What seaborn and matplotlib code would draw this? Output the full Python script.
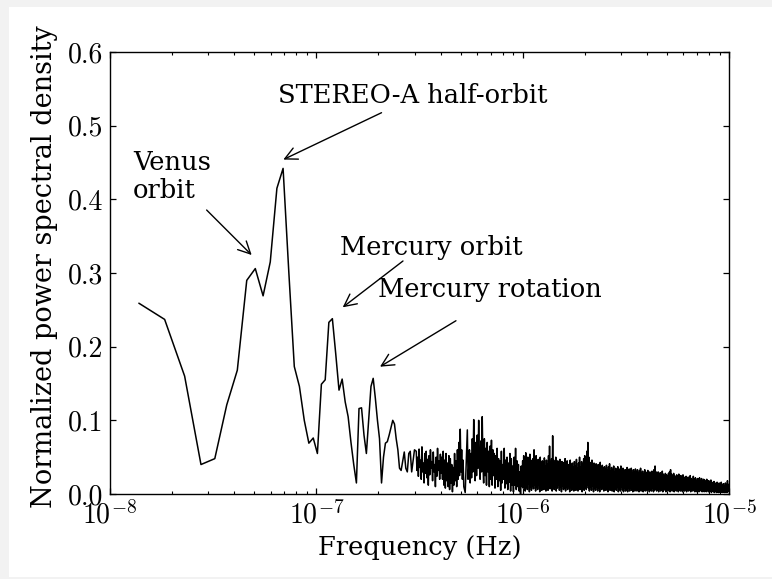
import numpy as np
import pandas as pd
import matplotlib
matplotlib.use("Agg")
import matplotlib.pyplot as plt
import seaborn as sns
from matplotlib.patches import Rectangle
from matplotlib.ticker import FormatStrFormatter, LogLocator

# Periodogram of the in-situ time series
DF = 4.6e-9  # frequency resolution (Hz)

# individually resolved bins (k * DF), k = 3 .. 65
bins_low = np.arange(3, 66)
psd_low = [0.259, 0.237, 0.160, 0.040, 0.048, 0.121, 0.168, 0.290, 0.306, 0.269,
           0.315, 0.415, 0.442, 0.300, 0.173, 0.146, 0.100, 0.069, 0.076, 0.055,
           0.149, 0.155, 0.233, 0.238, 0.190, 0.141, 0.156, 0.125, 0.105, 0.070,
           0.040, 0.015, 0.116, 0.117, 0.080, 0.055, 0.100, 0.146, 0.157, 0.130,
           0.100, 0.075, 0.015, 0.050, 0.069, 0.071, 0.080, 0.090, 0.100, 0.095,
           0.075, 0.060, 0.035, 0.032, 0.045, 0.057, 0.035, 0.030, 0.055, 0.058,
           0.030, 0.045, 0.060]

# 3.05e-7 .. 1e-6 Hz (log-spaced samples)
psd_mid = [
    0.058, 0.032, 0.050, 0.024, 0.061, 0.036, 0.046, 0.020, 0.064, 0.030,
    0.042, 0.015, 0.055, 0.028, 0.058, 0.022, 0.047, 0.012, 0.052, 0.026,
    0.060, 0.035, 0.044, 0.018, 0.057, 0.030, 0.040, 0.010, 0.050, 0.024,
    0.062, 0.032, 0.045, 0.020, 0.054, 0.028,
    0.050, 0.020, 0.058, 0.012, 0.046, 0.008, 0.055, 0.018, 0.042, 0.010,
    0.052, 0.006, 0.048, 0.015, 0.040, 0.003, 0.036, 0.012, 0.055, 0.018,
    0.045, 0.010, 0.060, 0.020, 0.070, 0.025, 0.088, 0.030,
    0.060, 0.020, 0.046, 0.010, 0.006, 0.002, 0.030, 0.062, 0.087, 0.020,
    0.035, 0.060, 0.015, 0.055, 0.022, 0.075, 0.030, 0.101, 0.045, 0.018,
    0.070, 0.025, 0.080, 0.035, 0.100, 0.040, 0.020, 0.072, 0.030, 0.105,
    0.040, 0.015, 0.075, 0.025, 0.062, 0.012, 0.070, 0.030, 0.058, 0.010,
    0.065, 0.020,
    0.073, 0.012, 0.060, 0.025, 0.055, 0.008, 0.052, 0.020, 0.062, 0.010,
    0.048, 0.018, 0.045, 0.005, 0.058, 0.015, 0.040, 0.020, 0.062, 0.008,
    0.046, 0.014, 0.050, 0.006, 0.042, 0.016, 0.055, 0.004, 0.048, 0.012,
    0.038, 0.003, 0.050, 0.012, 0.062, 0.006, 0.045, 0.010, 0.040, 0.004,
    0.030, 0.000, 0.038, 0.010,
]

# 1e-6 .. 1e-5 Hz (log-spaced samples)
psd_top = [
    0.045, 0.008, 0.052, 0.012, 0.040, 0.004, 0.056, 0.010, 0.043, 0.006,
    0.050, 0.014, 0.038, 0.003, 0.054, 0.009, 0.046, 0.005, 0.041, 0.011,
    0.048, 0.007, 0.060, 0.012, 0.044, 0.004, 0.052, 0.010, 0.039, 0.006,
    0.047, 0.013, 0.042, 0.003, 0.050, 0.008, 0.036, 0.005, 0.045, 0.010,
    0.043, 0.006, 0.049, 0.011, 0.038, 0.004, 0.046, 0.009, 0.041, 0.005,
    0.052, 0.012, 0.065, 0.007, 0.044, 0.010, 0.048, 0.004, 0.079, 0.012,
    0.046, 0.006, 0.042, 0.010, 0.050, 0.004, 0.038, 0.008, 0.045, 0.012,
    0.036, 0.005, 0.047, 0.009, 0.040, 0.003, 0.044, 0.011, 0.035, 0.006,
    0.043, 0.008, 0.048, 0.004, 0.037, 0.010, 0.045, 0.006, 0.040, 0.012,
    0.034, 0.003, 0.046, 0.009, 0.039, 0.005, 0.042, 0.010, 0.036, 0.004,
    0.044, 0.008, 0.038, 0.005, 0.047, 0.011, 0.035, 0.004, 0.042, 0.009,
    0.050, 0.006, 0.037, 0.012, 0.044, 0.003, 0.040, 0.008, 0.048, 0.005,
    0.052, 0.010, 0.045, 0.006, 0.058, 0.012, 0.070, 0.008, 0.050, 0.004,
    0.043, 0.010, 0.039, 0.005, 0.046, 0.011, 0.036, 0.003, 0.042, 0.008,
    0.038, 0.005, 0.041, 0.010, 0.034, 0.004, 0.040, 0.008, 0.036, 0.003,
    0.043, 0.009, 0.033, 0.006, 0.039, 0.011, 0.035, 0.004, 0.037, 0.007,
    0.034, 0.005, 0.039, 0.009, 0.032, 0.003, 0.037, 0.008, 0.041, 0.005,
    0.031, 0.010, 0.036, 0.004, 0.033, 0.007, 0.038, 0.003, 0.030, 0.008,
    0.035, 0.005, 0.032, 0.009, 0.037, 0.003, 0.030, 0.007, 0.034, 0.004,
    0.038, 0.010, 0.031, 0.005, 0.035, 0.003, 0.029, 0.008, 0.033, 0.004,
    0.032, 0.006, 0.036, 0.003, 0.029, 0.008, 0.034, 0.004, 0.031, 0.009,
    0.035, 0.005, 0.028, 0.003, 0.033, 0.007, 0.030, 0.004, 0.034, 0.006,
    0.030, 0.004, 0.033, 0.008, 0.028, 0.003, 0.032, 0.006, 0.035, 0.004,
    0.029, 0.008, 0.031, 0.003, 0.027, 0.006, 0.033, 0.004, 0.030, 0.007,
    0.028, 0.004, 0.032, 0.007, 0.027, 0.003, 0.030, 0.006, 0.026, 0.004,
    0.031, 0.008, 0.029, 0.003, 0.033, 0.005, 0.038, 0.007, 0.030, 0.004,
    0.027, 0.005, 0.030, 0.003, 0.026, 0.007, 0.029, 0.004, 0.025, 0.006,
    0.031, 0.003, 0.027, 0.005, 0.024, 0.007, 0.028, 0.003, 0.026, 0.005,
    0.025, 0.004, 0.028, 0.006, 0.030, 0.003, 0.033, 0.005, 0.027, 0.004,
    0.024, 0.006, 0.028, 0.003, 0.025, 0.005, 0.022, 0.004, 0.026, 0.006,
    0.024, 0.003, 0.027, 0.005, 0.022, 0.004, 0.025, 0.006, 0.021, 0.003,
    0.026, 0.005, 0.023, 0.004, 0.020, 0.006, 0.024, 0.003, 0.022, 0.005,
    0.023, 0.004, 0.020, 0.006, 0.025, 0.003, 0.021, 0.005, 0.019, 0.004,
    0.024, 0.006, 0.020, 0.003, 0.022, 0.005, 0.018, 0.003, 0.021, 0.004,
    0.020, 0.003, 0.022, 0.005, 0.018, 0.004, 0.021, 0.003, 0.017, 0.005,
    0.020, 0.003, 0.019, 0.004, 0.016, 0.003, 0.020, 0.005, 0.017, 0.003,
    0.018, 0.003, 0.015, 0.004, 0.019, 0.002, 0.016, 0.004, 0.014, 0.003,
    0.017, 0.002, 0.015, 0.004, 0.013, 0.002, 0.016, 0.003, 0.014, 0.002,
    0.015, 0.003, 0.013, 0.002, 0.016, 0.003, 0.012, 0.002, 0.014, 0.003,
    0.011, 0.002, 0.015, 0.003, 0.012, 0.002, 0.018, 0.003, 0.013, 0.004,
]

freq_mid = np.geomspace(3.05e-7, 1.0e-6, len(psd_mid), endpoint=False)
freq_top = np.geomspace(1.0e-6, 1.0e-5, len(psd_top))

freq = np.concatenate([bins_low * DF, freq_mid, freq_top])
psd = np.concatenate([psd_low, psd_mid, psd_top])
df = pd.DataFrame({"freq": freq, "psd": psd})

# labelled features: text, text anchor (baseline of last line), arrow tail, arrow head
labels = ["STEREO-A half-orbit", "Venus\norbit", "Mercury orbit", "Mercury rotation"]
text_xy = [(6.52e-8, 0.5303), (1.29e-8, 0.4018), (1.30e-7, 0.3244), (1.99e-7, 0.2674)]
arrow_from = [(2.07e-7, 0.5176), (2.94e-8, 0.3855), (2.63e-7, 0.3163), (4.75e-7, 0.2352)]
arrow_to = [(6.92e-8, 0.454), (4.86e-8, 0.3244), (1.342e-7, 0.2534), (2.035e-7, 0.1728)]

TEXT_FONT = "DejaVu Serif"
TEXT_SIZE = 18.5

sns.set_theme(style="ticks")
plt.rcParams.update({
    "font.family": ["cmr10"],
    "mathtext.fontset": "cm",
    "axes.formatter.use_mathtext": True,
    "axes.unicode_minus": False,
    "text.color": "black",
    "axes.labelcolor": "black",
    "xtick.direction": "in",
    "ytick.direction": "in",
    "xtick.top": True,
    "ytick.right": True,
    "xtick.major.size": 4.5,
    "ytick.major.size": 4.5,
    "xtick.minor.size": 2.2,
    "ytick.minor.size": 2.2,
    "xtick.major.width": 0.9,
    "ytick.major.width": 0.9,
    "xtick.minor.width": 0.8,
    "axes.linewidth": 1.0,
    "axes.edgecolor": "black",
    "xtick.color": "black",
    "ytick.color": "black",
})

fig = plt.figure(figsize=(7.72, 5.79), dpi=100, facecolor="white")
# thin light-grey margin on the left, top and bottom edges
for rect in [(0, 0, 9 / 772, 1), (0, 1 - 7 / 579, 1, 7 / 579), (0, 0, 1, 2 / 579)]:
    fig.patches.append(Rectangle(rect[:2], rect[2], rect[3], transform=fig.transFigure,
                                 facecolor="#f2f2f2", edgecolor="none", zorder=0))

ax = fig.add_axes([110 / 772, 1 - 494 / 579, 619 / 772, 442 / 579])
sns.lineplot(data=df, x="freq", y="psd", color="black", linewidth=1.1,
             estimator=None, sort=False, ax=ax)
ax.set_xscale("log")
ax.set_xlim(1e-8, 1e-5)
ax.set_ylim(0, 0.6)
ax.set_yticks(np.arange(0, 0.61, 0.1))
ax.yaxis.set_major_formatter(FormatStrFormatter("%.1f"))
ax.xaxis.set_minor_locator(LogLocator(base=10, subs=np.arange(2, 10), numticks=20))
ax.tick_params(axis="both", which="major", labelsize=20)
ax.tick_params(axis="y", which="major", pad=5)
ax.tick_params(axis="x", which="major", pad=5)
ax.tick_params(which="both", top=True, right=True)

ax.set_xlabel("Frequency (Hz)", fontsize=TEXT_SIZE, family=TEXT_FONT, labelpad=4)
ax.set_ylabel("Normalized power spectral density", fontsize=19.5,
              family=TEXT_FONT, labelpad=7)
ax.yaxis.label.set_y(0.515)

for lab, txy, a0, a1 in zip(labels, text_xy, arrow_from, arrow_to):
    ax.text(txy[0], txy[1], lab, fontsize=TEXT_SIZE, family=TEXT_FONT,
            ha="left", va="baseline", linespacing=1.15)
    ax.annotate("", xy=a1, xytext=a0,
                arrowprops=dict(arrowstyle="->", color="black", lw=1.0,
                                mutation_scale=22, shrinkA=0, shrinkB=0))

fig.savefig("out.png", dpi=100, facecolor=fig.get_facecolor())
